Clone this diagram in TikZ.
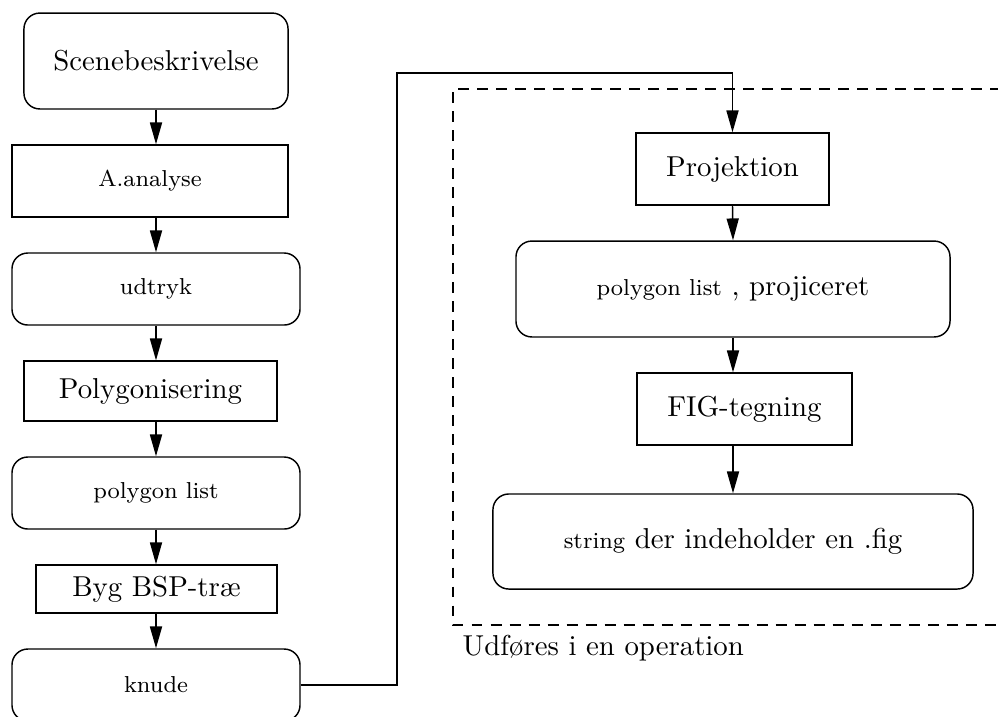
\documentclass[tikz,border=0pt]{standalone}
\usetikzlibrary{arrows.meta, positioning}
\begin{document}
\begin{tikzpicture}[x=0.3472pt, y=-0.3472pt, line width=0.5pt,
		boks/.style={draw, inner sep=0pt},
		rboks/.style={draw, rounded corners=5.5pt, inner sep=0pt},
		pil/.style={-{Triangle[length=7.6pt, width=4.2pt]}}]
	\useasboundingbox (0,0) rectangle (998,716);
	\clip (0,0) rectangle (998,716);
	% venstre kolonne
	\node[rboks, minimum width=91.7pt, minimum height=33.3pt] (scene) at (156,61) {Scenebeskrivelse};
	\node[boks, minimum width=95.8pt, minimum height=25pt] (ana) at (150,181) {\footnotesize A.analyse};
	\node[rboks, minimum width=100pt, minimum height=25pt] (ud) at (156,289) {\footnotesize udtryk};
	\node[boks, minimum width=87.8pt, minimum height=20.8pt] (poly) at (150.5,391) {Polygonisering};
	\node[rboks, minimum width=100pt, minimum height=25pt] (pl) at (156,493) {\footnotesize polygon list};
	\node[boks, minimum width=83.7pt, minimum height=16.7pt] (bsp) at (156.5,589) {Byg BSP-træ};
	\node[rboks, minimum width=100pt, minimum height=25pt] (kn) at (156,685) {\footnotesize knude};
	\draw[pil] (scene.south) -- (scene.south |- ana.north);
	\draw[pil] (ud.north |- ana.south) -- (ud.north);
	\draw[pil] (ud.south) -- (ud.south |- poly.north);
	\draw[pil] (pl.north |- poly.south) -- (pl.north);
	\draw[pil] (pl.south) -- (pl.south |- bsp.north);
	\draw[pil] (kn.north |- bsp.south) -- (kn.north);
	
	% hoejre kolonne, i en operation
	\draw[dash pattern=on 3.8pt off 2.8pt] (1020,89) -- (453,89) -- (453,625) -- (1020,625);
	\node[anchor=base west, inner sep=0pt] (udf) at (462,655) {Udføres i en operation};
	\node[boks, minimum width=67pt, minimum height=25pt] (proj) at (732.5,169) {Projektion};
	\node[rboks, minimum width=150.7pt, minimum height=33.3pt] (ppl) at (733,289) {{\footnotesize polygon list} , projiceret};
	\node[boks, minimum width=74.6pt, minimum height=25pt] (fig) at (744.5,409) {FIG-tegning};
	\node[rboks, minimum width=166.7pt, minimum height=33pt] (str) at (733,541.5) {{\footnotesize string} der indeholder en .fig};
	\draw[pil] (proj.south) -- (ppl.north);
	\draw[pil] (ppl.south) -- (ppl.south |- fig.north);
	\draw[pil] (str.north |- fig.south) -- (str.north);
	
	% forbindelse
	\coordinate (knik) at (397,73);
	\draw[pil] (kn.east) -| (knik) -| (proj.north);
\end{tikzpicture}
\end{document}
